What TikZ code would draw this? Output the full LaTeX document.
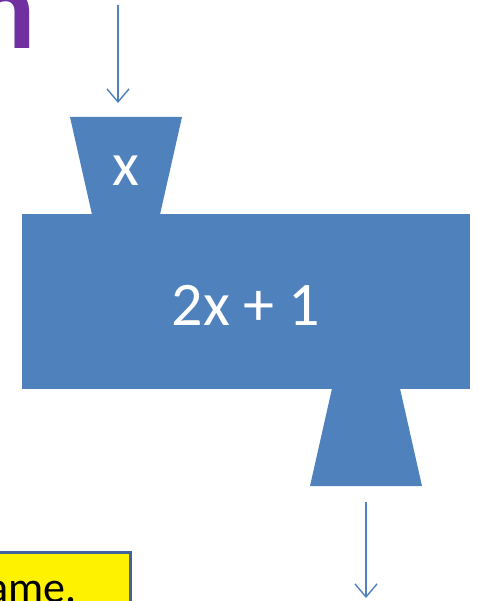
\documentclass[tikz,border=0pt]{standalone}
\usepackage{fontspec}
\setmainfont{Carlito}
\usetikzlibrary{arrows.meta}
\definecolor{boxblue}{HTML}{4F81BD}
\definecolor{titlepurple}{HTML}{7030A0}
\definecolor{noteedge}{HTML}{41639A}
\tikzset{
  funnel/.style={fill=boxblue, draw=none},
  flowarrow/.style={draw=boxblue, line width=1.4pt, -{Straight Barb[length=13pt,width=22pt,line width=1.4pt]}},
  whitetext/.style={text=white, inner sep=0pt, font=\fontsize{62}{70}\selectfont},
}
\begin{document}
\begin{tikzpicture}[x=1pt,y=-1pt]
\useasboundingbox (0,0) rectangle (478,601);
\clip (0,0) rectangle (478,601);
% title fragment
\node[anchor=base east, inner sep=0pt, text=titlepurple, font=\bfseries\fontsize{118}{120}\selectfont] (title) at (36,49) {n};
% main box
\fill[boxblue] (22,214) rectangle (470,389);
\node[whitetext] (fun) at (246,305) {2x + 1};
% input funnel
\fill[funnel] (70,117) -- (182,117) -- (160,214.5) -- (92,214.5) -- cycle;
\node[whitetext, anchor=base] (inx) at (126,186) {x};
% output funnel
\fill[funnel] (332,388.5) -- (400,388.5) -- (422,486) -- (310,486) -- cycle;
% arrows
\coordinate (inA) at (118,5);
\coordinate (inB) at (118,103);
\coordinate (outA) at (366,502);
\coordinate (outB) at (366,598);
\draw[flowarrow] (inA) -- (inB);
\draw[flowarrow] (outA) -- (outB);
% note box
\draw[fill=yellow, draw=noteedge, line width=3pt] (-10,552) rectangle (130,640);
\node[anchor=base east, inner sep=0pt, font=\fontsize{44}{50}\selectfont] (note) at (77,602) {ame.};
\end{tikzpicture}
\end{document}
